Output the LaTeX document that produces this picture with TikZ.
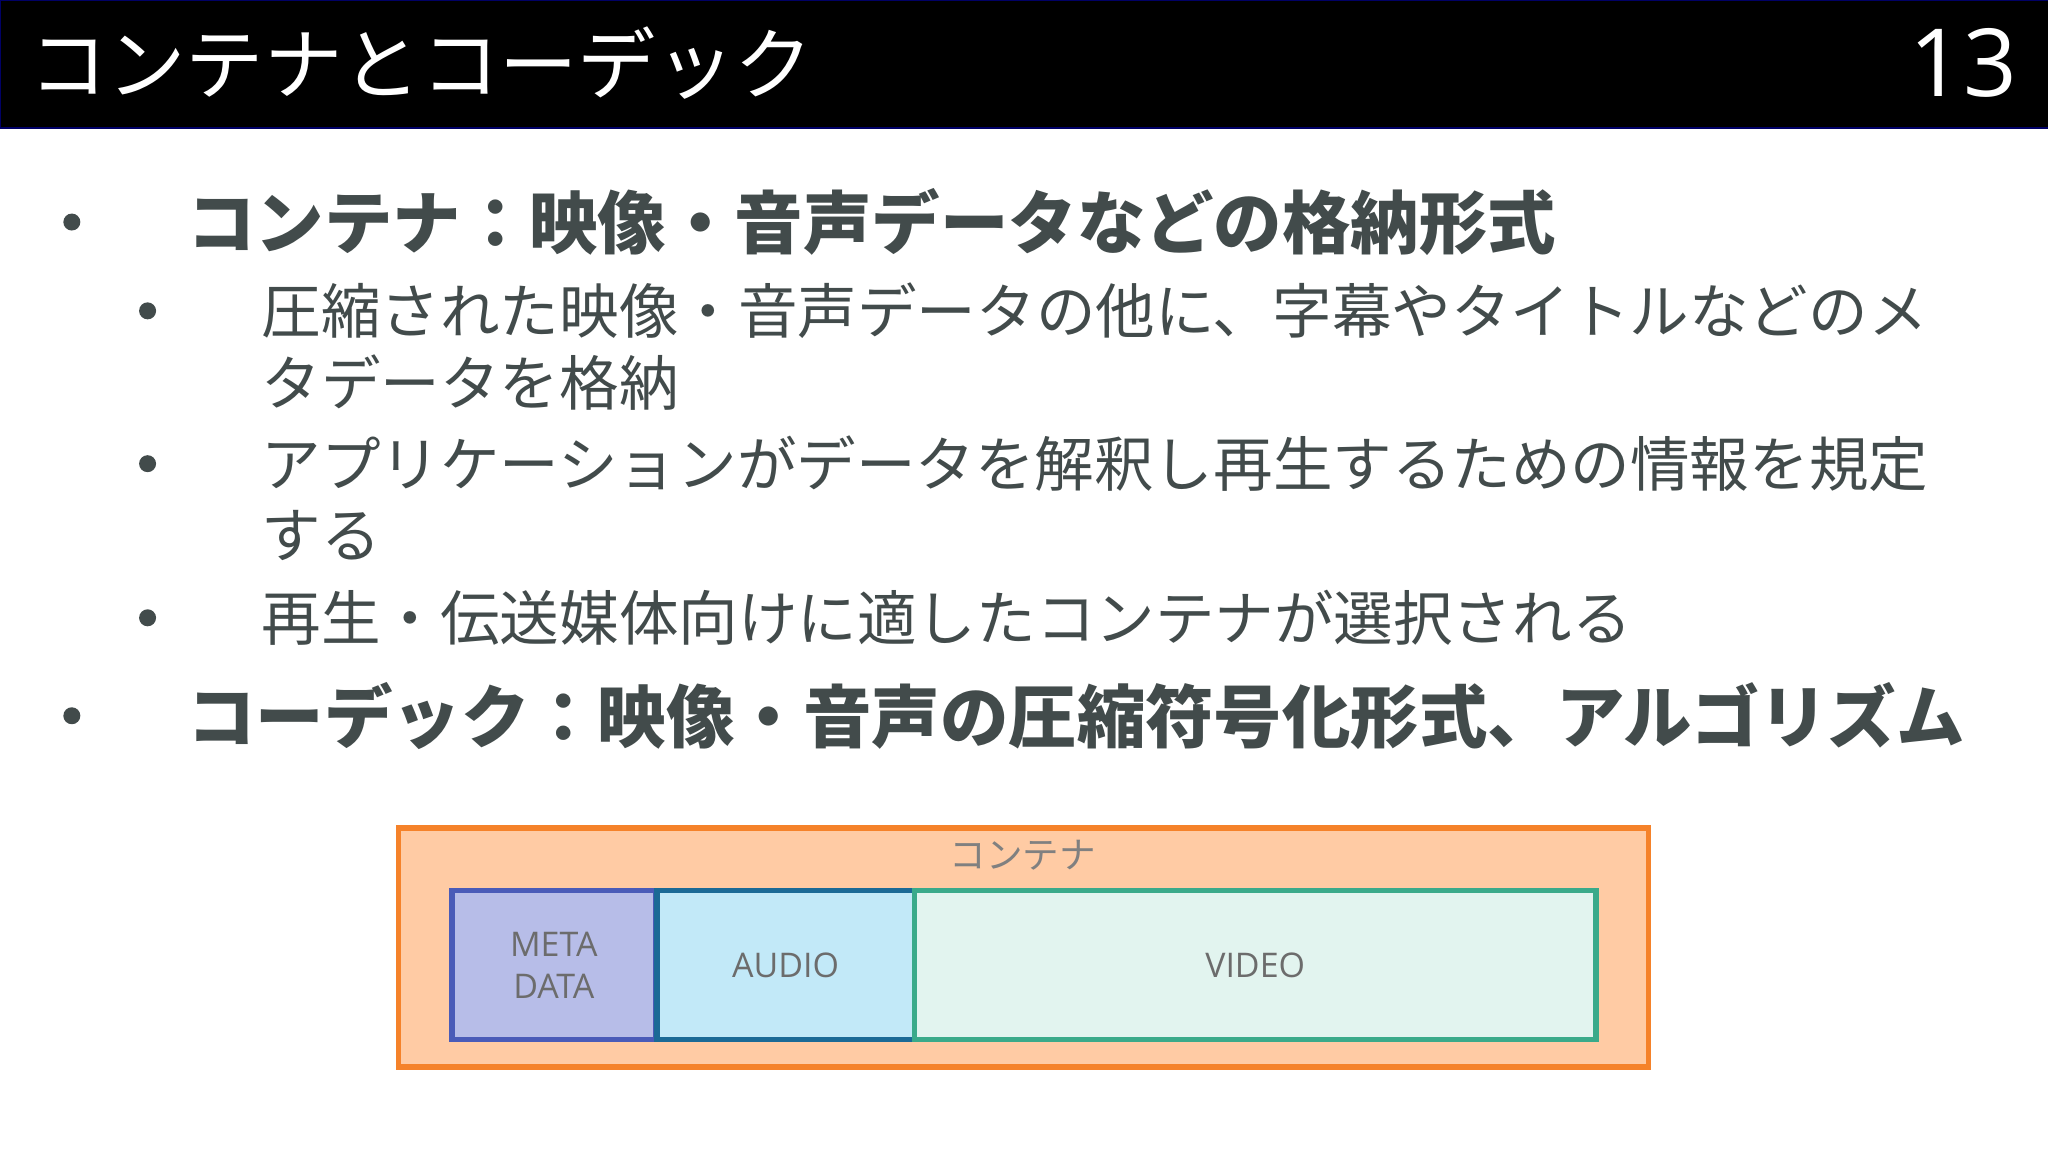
\documentclass[tikz,border=0pt]{standalone}
\usepackage{fontspec}
\setmainfont{Noto Sans CJK JP}
\newfontfamily\cjk{Noto Sans CJK JP}
\newfontfamily\lat{Open Sans}
\definecolor{txt}{HTML}{424B4B}
\definecolor{org}{HTML}{F5822A}
\definecolor{orgf}{HTML}{FFCBA4}
\definecolor{metaf}{HTML}{B7BDE8}
\definecolor{metad}{HTML}{4A5BB8}
\definecolor{audf}{HTML}{C2E9F8}
\definecolor{audd}{HTML}{1B6A96}
\definecolor{vidf}{HTML}{E2F4EF}
\definecolor{vidd}{HTML}{3AAA8A}
\begin{document}
\begin{tikzpicture}[x=0.5pt,y=-0.5pt,
  lone/.style={anchor=west,text=txt,font=\cjk\bfseries\fontsize{26.2}{26}\selectfont,inner sep=0},
  ltwo/.style={anchor=west,text=txt,font=\cjk\fontsize{22.8}{22}\selectfont,inner sep=0},
  bul/.style={circle,fill=txt,inner sep=0,minimum size=6.5pt},
  part/.style={draw,line width=2pt,minimum height=57pt,text=gray!85!black,font=\lat\fontsize{13}{16}\selectfont,align=center}]
\useasboundingbox (0,0) rectangle (1568,882);
\fill[white] (0,0) rectangle (1568,882);
\draw[fill=black,draw=blue!40!black] (0,0) rectangle (1568,98);
\node[anchor=west,text=white,font=\cjk\fontsize{30}{30}\selectfont,inner sep=0] (title) at (22,48) {コンテナとコーデック};
\node[anchor=east,text=white,font=\lat\fontsize{36}{36}\selectfont,inner sep=0] (num) at (1545,48) {13};
\node[bul] (b1) at (55,170) {}; \node[lone] (t1) at (143,170) {コンテナ：映像・音声データなどの格納形式};
\node[bul] (b2) at (113,238) {}; \node[ltwo] (t2) at (200,238) {圧縮された映像・音声データの他に、字幕やタイトルなどのメ};
\node[ltwo] (t2b) at (200,293) {タデータを格納};
\node[bul] (b3) at (113,355) {}; \node[ltwo] (t3) at (200,355) {アプリケーションがデータを解釈し再生するための情報を規定};
\node[ltwo] (t3b) at (200,410) {する};
\node[bul] (b4) at (113,473) {}; \node[ltwo] (t4) at (200,473) {再生・伝送媒体向けに適したコンテナが選択される};
\node[bul] (b5) at (55,548) {}; \node[lone] (t5) at (143,548) {コーデック：映像・音声の圧縮符号化形式、アルゴリズム};
\draw[org,fill=orgf,line width=2pt] (305,634) rectangle (1262,817);
\node[text=gray,font=\cjk\fontsize{14}{14}\selectfont] (cont) at (783,655) {コンテナ};
\node[part,draw=metad,fill=metaf,minimum width=78pt,anchor=north west] (meta) at (344,680) {META\\DATA};
\node[part,draw=audd,fill=audf,minimum width=98.5pt,anchor=north west] (audio) at (501,680) {AUDIO};
\node[part,draw=vidd,fill=vidf,minimum width=261pt,anchor=north west] (video) at (698,680) {VIDEO};
\end{tikzpicture}
\end{document}
